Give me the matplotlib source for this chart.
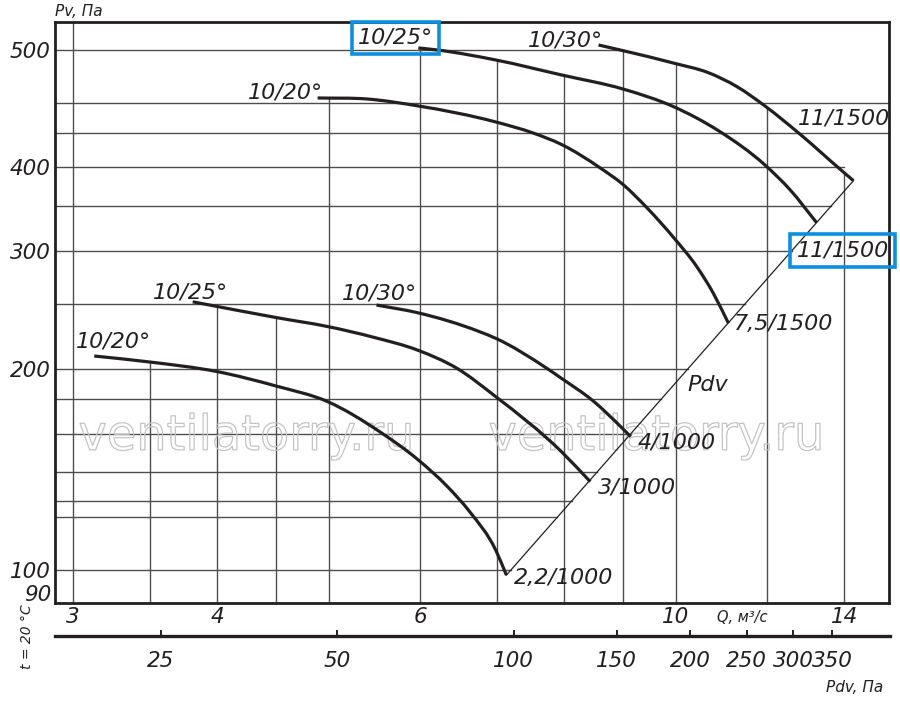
import numpy as np
import matplotlib
matplotlib.use("Agg")
import matplotlib.pyplot as plt
from matplotlib.font_manager import FontProperties
from matplotlib.textpath import TextPath
from matplotlib.patches import PathPatch
from matplotlib.path import Path
from matplotlib.transforms import Affine2D
from matplotlib.ticker import NullLocator

INK = "#231f20"
GRID = "#4d4d4d"
BLUE = "#0d8fe0"
FONT = dict(family=["DejaVu Sans"], style="oblique", color=INK)

# fan curves, Q in m3/s, Pv in Pa (blade angle / motor kW / rpm)
q_20_1000 = [3.13, 3.50, 4.00, 4.50, 4.99, 5.54, 5.98, 6.33, 6.63, 6.98, 7.13]
pv_20_1000 = [209.0, 204.7, 198.1, 188.5, 178.6, 160.9, 146.1, 133.6, 122.1, 107.1, 98.3]

q_25_1000 = [3.81, 4.50, 4.99, 5.47, 5.97, 6.46, 6.98, 7.96, 8.43]
pv_25_1000 = [251.9, 238.6, 231.3, 222.9, 213.3, 200.3, 181.7, 150.3, 135.6]

q_30_1000 = [5.50, 5.97, 6.76, 6.98, 7.73, 7.96, 8.48, 8.99, 9.14]
pv_30_1000 = [249.1, 242.6, 227.2, 222.1, 200.3, 193.5, 179.0, 162.9, 158.3]

q_20_1500 = [4.89, 5.40, 5.98, 6.98, 7.52, 7.96, 8.60, 9.00, 9.44, 9.97, 10.43, 10.78, 11.11]
pv_20_1500 = [508.1, 506.3, 494.3, 467.8, 450.4, 432.9, 399.3, 377.2, 348.2, 313.4, 284.2, 259.3, 233.9]

q_25_1500 = [5.98, 6.21, 6.98, 7.96, 9.00, 9.97, 10.90, 11.95, 12.57, 13.25]
pv_25_1500 = [603.6, 599.4, 579.1, 550.0, 524.0, 492.6, 453.5, 403.4, 370.1, 330.7]

q_30_1500 = [8.57, 9.00, 9.97, 10.67, 11.30, 11.95, 12.82, 13.91, 14.26]
pv_30_1500 = [609.8, 598.0, 572.6, 554.4, 528.3, 494.3, 448.4, 396.5, 382.2]

# Pdv line (dynamic pressure), through the ends of the curves
pdv_line_q = [7.13, 14.26]
pdv_line_pv = [98.3, 382.2]

curves = [
    (q_20_1000, pv_20_1000, "10/20°", "2,2/1000"),
    (q_25_1000, pv_25_1000, "10/25°", "3/1000"),
    (q_30_1000, pv_30_1000, "10/30°", "4/1000"),
    (q_20_1500, pv_20_1500, "10/20°", "7,5/1500"),
    (q_25_1500, pv_25_1500, "10/25°", "11/1500"),
    (q_30_1500, pv_30_1500, "10/30°", "11/1500"),
]
# label offsets in pixels from curve start / end
start_offsets = [(19, 15), (-2, 9), (3, 12), (-32, 5), (-23, 10), (-33, 4)]
end_offsets = [(7, -3), (8, -6), (7, -6), (5, -1), (-20, -28), (-56, 62)]
boxed_start = [False, False, False, False, True, False]
boxed_end = [False, False, False, False, True, False]

q_ticks = [3, 4, 6, 10, 14]
pv_ticks = [90, 100, 200, 300, 400, 600]
pv_tick_labels = ["90", "100", "200", "300", "400", "500"]  # as printed on the sheet
pdv_ticks = [25, 50, 100, 150, 200, 250, 300, 350]

grid_q = [3, 3.5, 4, 4.5, 5, 6, 7, 8, 9, 10, 12, 14]
grid_pv = [600, 500, 450, 400, 350, 300, 250, 200, 180, 160, 140, 127, 120, 100]
grid_pv_stop = [8.98, 16, 16, 14, None, None, None, None, None, None, None, None, None, None]

Q_LIM = (2.894, 15.31)
PV_LIM = (89.3, 660)


def top_curve(q):
    vals = []
    for cq, cp, _, _ in curves:
        if cq[0] <= q <= cq[-1]:
            vals.append(np.exp(np.interp(np.log(q), np.log(cq), np.log(cp))))
    return max(vals) if vals else PV_LIM[1]


def on_pdv_line(p):
    return np.exp(np.interp(np.log(p), np.log(pdv_line_pv), np.log(pdv_line_q)))


def smooth_path(q, p):
    # hermite bezier through the read points, in log-log space
    x, y = np.log(q), np.log(p)
    h = np.diff(x)
    d = np.diff(y) / h
    m = np.empty_like(x)
    m[0], m[-1] = d[0], d[-1]
    m[1:-1] = (d[:-1] * h[1:] + d[1:] * h[:-1]) / (h[:-1] + h[1:])
    verts, codes = [(x[0], y[0])], [Path.MOVETO]
    for i in range(len(x) - 1):
        t = h[i] / 3
        verts += [(x[i] + t, y[i] + m[i] * t), (x[i + 1] - t, y[i + 1] - m[i + 1] * t),
                  (x[i + 1], y[i + 1])]
        codes += [Path.CURVE4] * 3
    return Path(np.exp(np.array(verts)), codes)


fig = plt.figure(figsize=(9, 7.06), dpi=100)
ax = fig.add_axes([55 / 900, 103 / 706, 834 / 900, 581 / 706])
ax.set_xscale("log")
ax.set_yscale("log")
ax.set_xlim(*Q_LIM)
ax.set_ylim(*PV_LIM)

# grid, clipped like on the drawing
for q in grid_q:
    ax.plot([q, q], [PV_LIM[0], top_curve(q)], color=GRID, lw=1.0, zorder=1)
for p, stop in zip(grid_pv, grid_pv_stop):
    right = on_pdv_line(p) if stop is None else stop
    ax.plot([Q_LIM[0], right], [p, p], color=GRID, lw=1.0, zorder=1)


def watermark(cx, cy, w, h):
    tp = TextPath((0, 0), "ventilatorry.ru", size=1, prop=FontProperties(family="DejaVu Sans"))
    ext = tp.get_extents()
    tr = (Affine2D().translate(-ext.x0 - ext.width / 2, -ext.y0 - ext.height / 2)
          .scale(w / ext.width, h / ext.height).translate(cx, cy) + ax.transAxes)
    ax.add_patch(PathPatch(tp, fc="none", ec="#c4c4c4", lw=0.9, transform=tr, zorder=1.5))


watermark(0.2278, 0.2866, 0.3957, 0.0809)
watermark(0.7194, 0.2866, 0.3957, 0.0809)

ax.plot(pdv_line_q, pdv_line_pv, color=INK, lw=0.9, zorder=2)
ax.annotate("Pdv", xy=(10, 191), xytext=(32, -3), textcoords="offset pixels",
            ha="center", va="center", fontsize=16, **FONT)

box = dict(boxstyle="square,pad=0.28", fc="none", ec=BLUE, lw=2.6)
for (cq, cp, s_lab, e_lab), so, eo, bs, be in zip(curves, start_offsets, end_offsets,
                                                    boxed_start, boxed_end):
    ax.add_patch(PathPatch(smooth_path(cq, cp), fc="none", ec=INK, lw=2.3,
                           capstyle="butt", zorder=3))
    ax.annotate(s_lab, xy=(cq[0], cp[0]), xytext=so, textcoords="offset pixels",
                ha="center", va="center", fontsize=16, bbox=box if bs else None, **FONT)
    ax.annotate(e_lab, xy=(cq[-1], cp[-1]), xytext=eo, textcoords="offset pixels",
                ha="left", va="center", fontsize=16, bbox=box if be else None, **FONT)

ax.set_xticks(q_ticks)
ax.set_xticklabels([str(v) for v in q_ticks])
ax.set_yticks(pv_ticks)
ax.set_yticklabels(pv_tick_labels)
ax.xaxis.set_minor_locator(NullLocator())
ax.yaxis.set_minor_locator(NullLocator())
ax.tick_params(length=0, labelsize=15.5, pad=3, colors=INK)
for lab in ax.get_xticklabels() + ax.get_yticklabels():
    lab.set_fontstyle("oblique")
ax.get_yticklabels()[0].set_va("baseline")
for sp in ax.spines.values():
    sp.set_linewidth(2.0)
    sp.set_color(INK)

# second scale: Pdv, Pa
ax2 = fig.add_axes([55 / 900, 70 / 706, 835 / 900, 1e-4])
ax2.set_xscale("log")
ax2.set_xlim(16.5, 439)
ax2.set_yticks([])
ax2.set_xticks(pdv_ticks)
ax2.set_xticklabels([str(v) for v in pdv_ticks])
ax2.xaxis.set_minor_locator(NullLocator())
ax2.patch.set_visible(False)
for side in ("top", "left", "right"):
    ax2.spines[side].set_visible(False)
ax2.spines["bottom"].set_linewidth(2.4)
ax2.spines["bottom"].set_color(INK)
ax2.tick_params(axis="x", direction="in", length=4, width=1.4, labelsize=15.5, pad=11, colors=INK)
for lab in ax2.get_xticklabels():
    lab.set_fontstyle("oblique")

fig.text(55 / 900, 1 - 16 / 706, "Pv, Па", ha="left", va="baseline", fontsize=11, **FONT)
fig.text(742 / 900, 1 - 618 / 706, "Q, м³/с", ha="center", va="center", fontsize=10.5, **FONT)
fig.text(883 / 900, 1 - 692 / 706, "Pdv, Па", ha="right", va="baseline", fontsize=11, **FONT)
fig.text(27 / 900, 1 - 637 / 706, "t = 20 °C", ha="center", va="center", rotation=90,
         fontsize=10, **FONT)

fig.savefig("out.png", dpi=100)
